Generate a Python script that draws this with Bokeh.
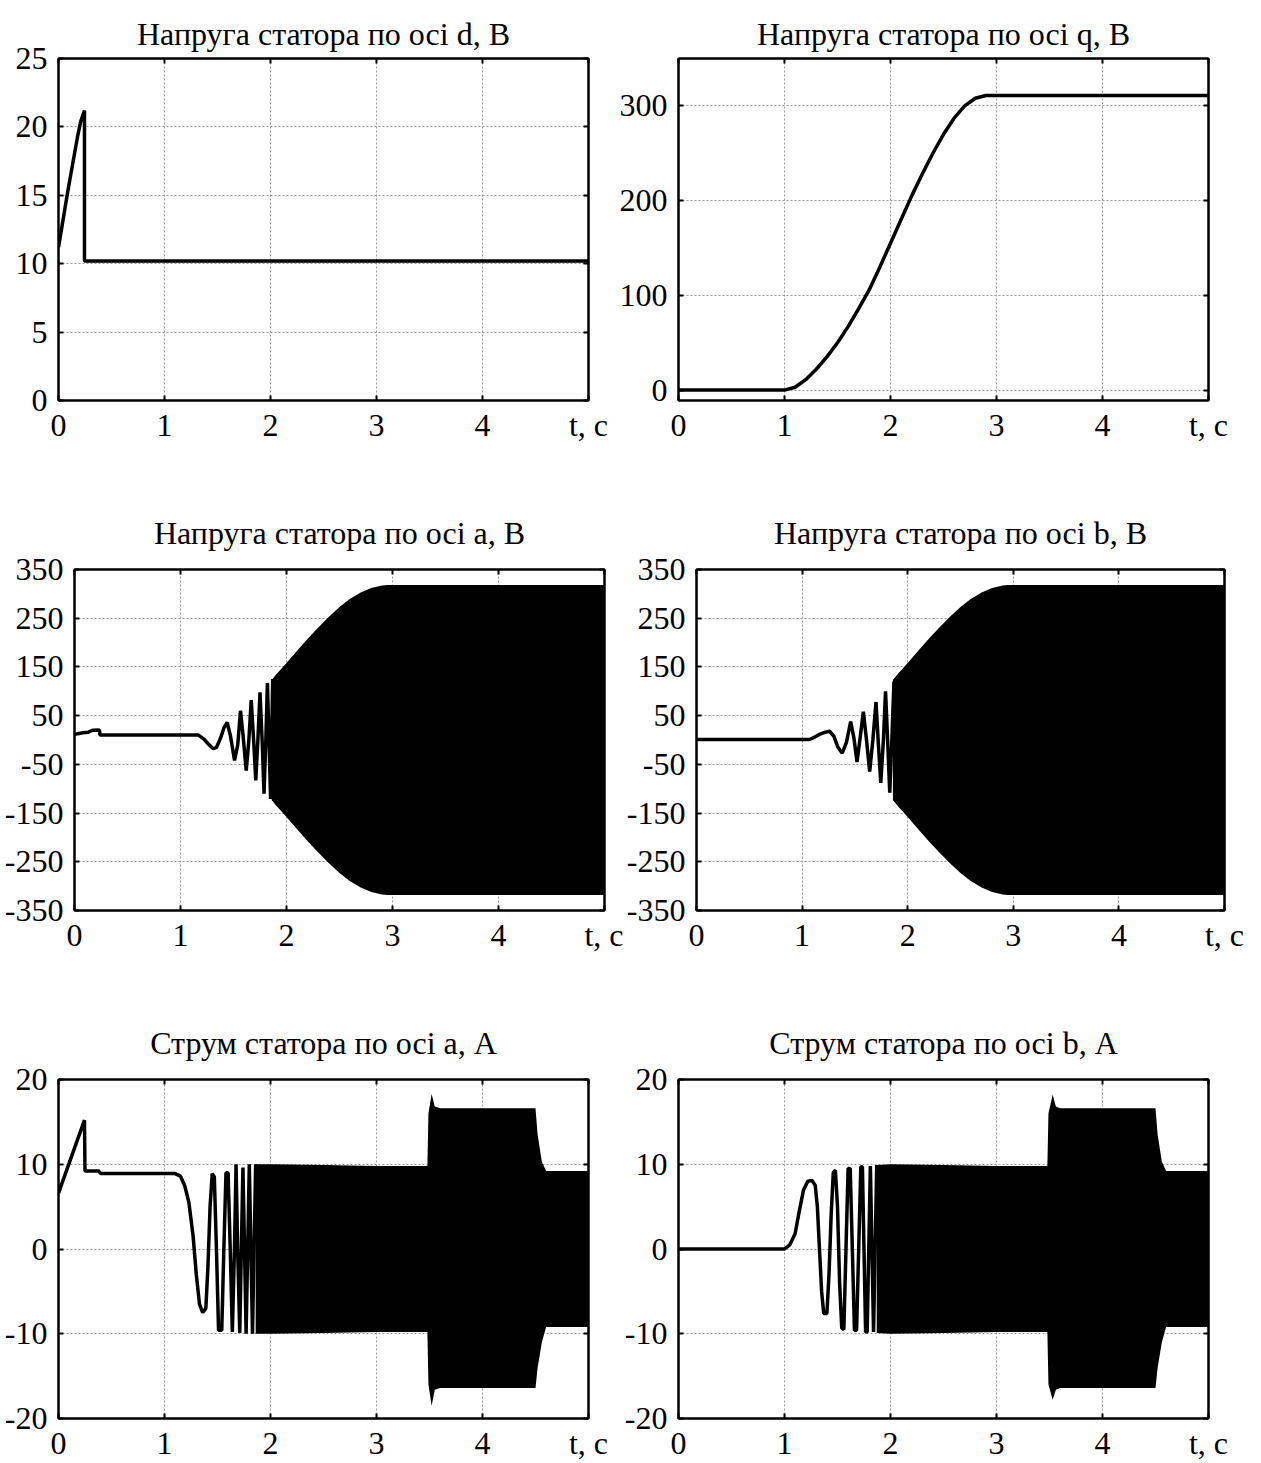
from bokeh.plotting import figure
from bokeh.models import Range1d, FixedTicker, LinearAxis
from bokeh.layouts import column, row
from bokeh.embed import file_html
from bokeh.resources import INLINE

FONT = "Liberation Serif"
FS = "32px"
FS_TITLE = "32px"

# ---------------- data ----------------
titles = ["Напруга статора по осі d, В", "Напруга статора по осі q, В",
          "Напруга статора по осі a, В", "Напруга статора по осі b, В",
          "Струм статора по осі a, А", "Струм статора по осі b, А"]
x_ticks = [0, 1, 2, 3, 4, 5]
x_last_label = "t, c"

# stator voltage d-axis
ud_t = [0.0, 0.03, 0.06, 0.09, 0.12, 0.15, 0.18, 0.21, 0.245, 0.245, 5.0]
ud_v = [11.2, 12.6, 14.0, 15.4, 16.7, 18.0, 19.3, 20.4, 21.2, 10.2, 10.2]
ud_yticks = [0, 5, 10, 15, 20, 25]

# stator voltage q-axis
uq_t = [0.0, 1.0, 1.1, 1.2, 1.3, 1.4, 1.5, 1.6, 1.7, 1.8, 1.9, 2.0, 2.1,
        2.2, 2.3, 2.4, 2.5, 2.6, 2.7, 2.8, 2.9, 5.0]
uq_v = [0, 0, 3, 11, 22, 35, 50, 67, 86, 106, 130, 155, 180,
        205, 228, 250, 270, 287, 300, 308, 311, 311]
uq_yticks = [0, 100, 200, 300]

# stator voltage a-axis: resolved part + envelope of dense oscillation
ua_t = [0.0, 0.03, 0.08, 0.13, 0.17, 0.235, 0.24, 1.17, 1.22, 1.27, 1.31, 1.34,
        1.38, 1.41, 1.44, 1.47, 1.51, 1.54, 1.566, 1.59, 1.62, 1.645, 1.667,
        1.69, 1.71, 1.73, 1.75, 1.77, 1.788, 1.805, 1.82, 1.835, 1.85, 1.87]
ua_v = [11, 13, 15, 16, 20, 20.5, 10.2, 10.2, 2, -10, -18, -15,
        5, 25, 36, 10, -42, -10, 60, 10, -63, 0, 82,
        0, -83, 0, 98, 0, -110, 0, 117, 0, -121, 125]
uab_env_t = [1.86, 1.9, 2.0, 2.1, 2.2, 2.3, 2.4, 2.5, 2.6, 2.7, 2.8, 2.9, 2.95, 5.0]
uab_env_hi = [123, 134, 158, 183, 208, 231, 253, 273, 290, 303, 312, 317, 318, 318]
uab_env_lo = [-123, -134, -158, -183, -208, -231, -253, -273, -290, -303, -312, -317, -318, -318]
uab_yticks = [-350, -250, -150, -50, 50, 150, 250, 350]

# stator voltage b-axis
ub_t = [0.0, 1.07, 1.12, 1.17, 1.22, 1.26, 1.3, 1.34, 1.38, 1.42, 1.46, 1.49,
        1.52, 1.55, 1.58, 1.61, 1.64, 1.67, 1.70, 1.72, 1.745, 1.77, 1.79,
        1.81, 1.83, 1.85, 1.87]
ub_v = [1, 1, 6, 12, 16, 18, 8, -15, -27, -5, 38, 5,
        -45, 5, 58, 0, -65, 0, 78, 0, -88, 0, 100,
        0, -108, 0, 120]

# stator current a-axis
ia_t = [0.0, 0.245, 0.25, 0.38, 0.40, 1.10, 1.15, 1.19, 1.23, 1.27, 1.30, 1.33,
        1.36, 1.39, 1.41, 1.43, 1.45, 1.47, 1.49, 1.51, 1.54, 1.56, 1.58, 1.60,
        1.62, 1.64, 1.66, 1.675, 1.69, 1.71, 1.725, 1.74, 1.755, 1.77, 1.785,
        1.80, 1.815, 1.83, 1.845, 1.86]
ia_v = [6.6, 15.2, 9.2, 9.2, 8.9, 8.9, 8.6, 7.5, 5.5, 1.5, -3, -6.5,
        -7.5, -7, -2, 5, 8.9, 8.5, 0, -9.6, -9.6, 0, 9, 9,
        0, -9.8, 0, 10, 0, -9.9, 0, 9.6, 0, -10, 0,
        10, 0, -10, 0, 10]
ia_env_t = [1.86, 2.0, 2.5, 3.0, 3.48, 3.49, 3.52, 3.55, 3.6, 4.0, 4.5, 4.52, 4.56, 4.6, 5.0]
ia_env_hi = [10.0, 10.0, 9.9, 9.8, 9.8, 16.0, 18.3, 16.8, 16.6, 16.6, 16.6, 13.5, 10.3, 9.2, 9.2]
ia_env_lo = [-10.0, -10.0, -9.9, -9.8, -9.8, -16.0, -18.5, -16.6, -16.4, -16.4, -16.4, -14.0, -11.0, -9.2, -9.2]
i_yticks = [-20, -10, 0, 10, 20]

# stator current b-axis
ib_t = [0.0, 1.0, 1.05, 1.1, 1.14, 1.18, 1.22, 1.26, 1.29, 1.31, 1.33, 1.35,
        1.37, 1.40, 1.42, 1.44, 1.46, 1.48, 1.5, 1.52, 1.54, 1.56, 1.58,
        1.60, 1.62, 1.64, 1.66, 1.68, 1.70, 1.72, 1.735, 1.75, 1.765, 1.78,
        1.795, 1.81, 1.825, 1.84, 1.855, 1.87]
ib_v = [0, 0, 0.5, 1.8, 4.5, 7, 8, 8.1, 7.5, 5, 0, -5,
        -7.6, -7.6, -3, 4, 9, 9.3, 5, -4, -9.3, -9.5, 0,
        9.5, 9.5, 0, -9.6, -9.6, 0, 9.7, 9.7, 0, -9.8, -9.8,
        0, 9.8, 0, -9.8, 0, 9.9]
ib_env_t = [1.87, 2.0, 2.5, 3.0, 3.48, 3.49, 3.53, 3.56, 3.6, 4.0, 4.5, 4.52, 4.56, 4.6, 5.0]
ib_env_hi = [9.9, 10.0, 9.9, 9.8, 9.8, 16.0, 18.2, 16.8, 16.6, 16.6, 16.6, 13.5, 10.3, 9.2, 9.2]
ib_env_lo = [-9.9, -10.0, -9.9, -9.8, -9.8, -16.0, -17.8, -16.6, -16.4, -16.4, -16.4, -14.0, -11.0, -9.2, -9.2]


def style_axis(ax, ticks, labels=True, overrides=None):
    ax.ticker = FixedTicker(ticks=ticks)
    ax.axis_line_color = "black"
    ax.axis_line_width = 2
    ax.major_tick_line_color = "black"
    ax.major_tick_line_width = 2
    ax.major_tick_in = 5
    ax.major_tick_out = 0
    ax.minor_tick_line_color = None
    if labels:
        ax.major_label_text_font = FONT
        ax.major_label_text_font_size = FS
        ax.major_label_text_color = "black"
        ov = {t: str(t).replace("\u2212", "-") for t in ticks if t < 0}
        if overrides:
            ov.update(overrides)
        if ov:
            ax.major_label_overrides = ov
    else:
        ax.major_label_text_font_size = "1px"
        ax.major_label_text_color = None
        ax.major_label_standoff = 0


def make(title, yr, yticks, w, h, bl, br, bt, bb, standoff, valign="bottom"):
    p = figure(width=w, height=h, output_backend="svg", toolbar_location=None,
               x_range=Range1d(0, 5), y_range=Range1d(*yr),
               min_border_left=bl, min_border_right=br,
               min_border_top=bt, min_border_bottom=bb)
    p.title.text = title
    p.title.align = "center"
    p.title.vertical_align = valign
    p.title.text_font = FONT
    p.title.text_font_size = FS_TITLE
    p.title.text_font_style = "normal"
    p.title.text_color = "black"
    p.title.standoff = standoff
    p.outline_line_color = "black"
    p.outline_line_width = 2
    style_axis(p.xaxis[0], x_ticks, True, {5: x_last_label})
    p.xaxis[0].major_label_standoff = 6
    style_axis(p.yaxis[0], yticks, True)
    p.yaxis[0].major_label_standoff = 11
    top = LinearAxis()
    style_axis(top, x_ticks, False)
    p.add_layout(top, "above")
    right = LinearAxis()
    style_axis(right, yticks, False)
    p.add_layout(right, "right")
    for g in (p.xgrid[0], p.ygrid[0]):
        g.grid_line_color = "#9a9a9a"
        g.grid_line_dash = "2 2"
        g.grid_line_width = 1
    return p


LW = 3.5
p1 = make(titles[0], (0, 25), ud_yticks, 610, 470, 58, 22, 58, 70, 10, "top")
p1.line(ud_t, ud_v, line_width=LW, color="black")
p2 = make(titles[1], (-11, 350), uq_yticks, 651, 470, 68, 53, 58, 70, 10, "top")
p2.line(uq_t, uq_v, line_width=LW, color="black")

p3 = make(titles[2], (-350, 350), uab_yticks, 623, 510, 74, 19, 99, 70, 38)
p3.line(ua_t, ua_v, line_width=LW, color="black")
p3.varea(x=uab_env_t, y1=uab_env_lo, y2=uab_env_hi, fill_color="black")
p4 = make(titles[3], (-350, 350), uab_yticks, 638, 510, 71, 37, 99, 70, 38)
p4.line(ub_t, ub_v, line_width=LW, color="black")
p4.varea(x=uab_env_t, y1=uab_env_lo, y2=uab_env_hi, fill_color="black")

p5 = make(titles[4], (-20, 20), i_yticks, 610, 483, 58, 22, 99, 44, 38)
p5.line(ia_t, ia_v, line_width=LW, color="black")
p5.varea(x=ia_env_t, y1=ia_env_lo, y2=ia_env_hi, fill_color="black")
p6 = make(titles[5], (-20, 20), i_yticks, 651, 483, 68, 53, 99, 44, 38)
p6.line(ib_t, ib_v, line_width=LW, color="black")
p6.varea(x=ib_env_t, y1=ib_env_lo, y2=ib_env_hi, fill_color="black")

layout = column(row(p1, p2, spacing=0), row(p3, p4, spacing=0), row(p5, p6, spacing=0), spacing=0)
open("out.html", "w").write(file_html(layout, INLINE))
